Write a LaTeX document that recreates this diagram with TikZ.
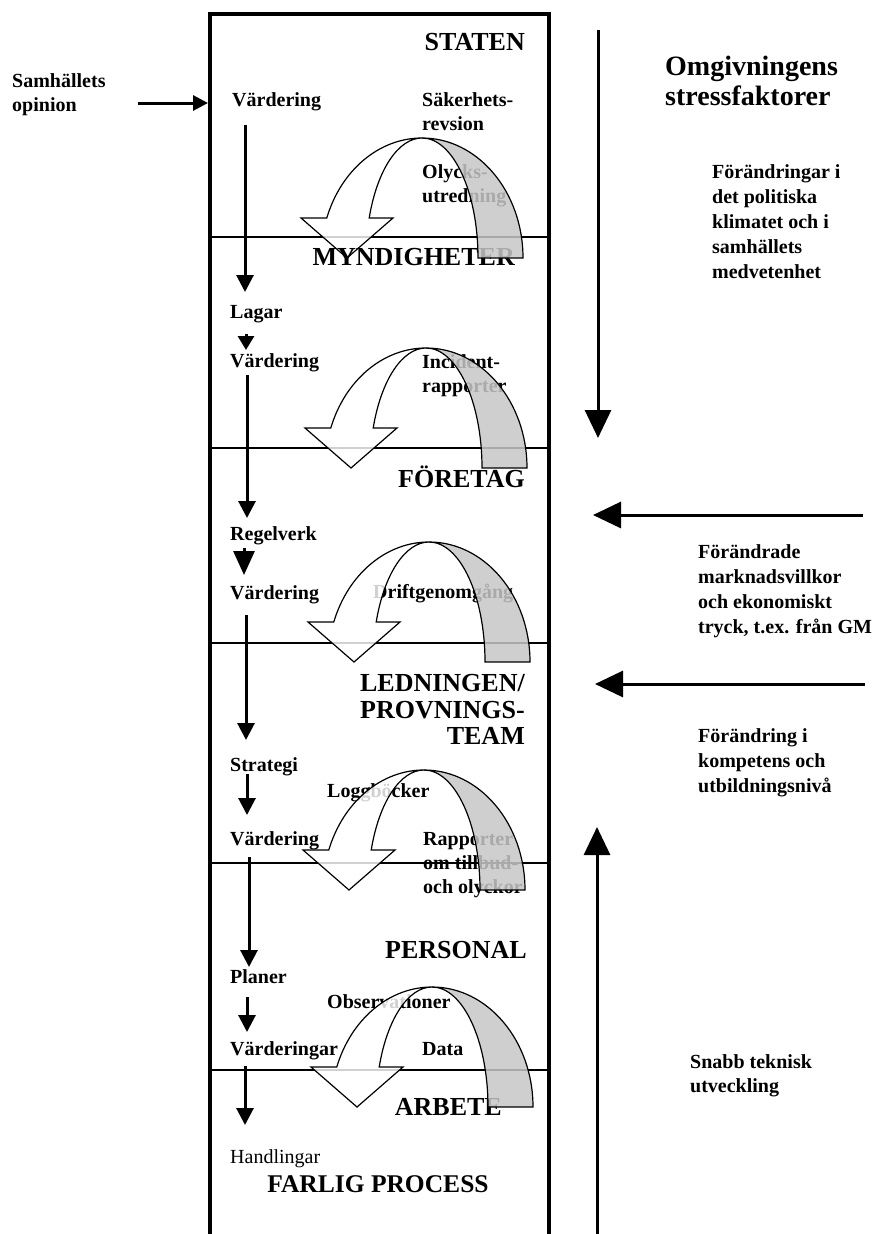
\documentclass[tikz,border=0pt]{standalone}
\usepackage{fontspec}
\setmainfont{Liberation Serif}
\usetikzlibrary{arrows.meta,calc}

\definecolor{bandgray}{gray}{0.78}

\newcommand\lblfont{\fontsize{20}{24}\selectfont\bfseries}
\newcommand\sidefont{\fontsize{20}{25}\selectfont\bfseries}
\newcommand\lvlfont{\fontsize{26}{26.5}\selectfont\bfseries}
\newcommand\headfont{\fontsize{28}{30}\selectfont\bfseries}

\tikzset{
  lbl/.style={font=\lblfont, inner sep=0pt, anchor=base west},
  lblblock/.style={font=\lblfont, inner sep=0pt, anchor=north west, align=left},
  sideblock/.style={font=\sidefont, inner sep=0pt, anchor=north west, align=left},
  level/.style={font=\lvlfont, inner sep=0pt, anchor=base east, align=right},
  flow/.style={line width=3pt, -{Triangle[length=17pt,width=17pt]}},
  stress/.style={line width=3pt, -{Triangle[length=28pt,width=26pt]}},
  frontband/.style={draw=black, line width=1.2pt, fill=white, fill opacity=0.82},
  backband/.style={draw=black, line width=1.2pt, fill=bandgray, fill opacity=0.85},
  border/.style={line width=3.5pt, line join=miter},
  divider/.style={line width=1.3pt}
}

% white front half of a feedback loop, ending in a downward arrow head
% #1 = x of the outer right edge, #2 = depth of the bottom edge
\newcommand\loopfront[2]{%
  \pgfmathsetmacro\lcx{#1-101}%
  \pgfmathsetmacro\lcy{-#2}%
  \path[frontband] (\lcx,\lcy+120)
    arc[start angle=90, end angle=160.53, x radius=101, y radius=120]
    -- (\lcx-121,\lcy+40) -- (\lcx-75,\lcy) -- (\lcx-29,\lcy+40)
    -- (\lcx-52.8,\lcy+40)
    arc[start angle=160.53, end angle=90, x radius=56, y radius=120]
    -- cycle;}
% shaded back half of the same loop
\newcommand\loopback[2]{%
  \pgfmathsetmacro\lcx{#1-101}%
  \pgfmathsetmacro\lcy{-#2}%
  \path[backband] (\lcx+56,\lcy) -- (\lcx+101,\lcy)
    arc[start angle=0, end angle=90, x radius=101, y radius=120]
    arc[start angle=90, end angle=0, x radius=56, y radius=120]
    -- cycle;}

\begin{document}
\begin{tikzpicture}[x=1pt,y=1pt]
\useasboundingbox (0,0) rectangle (875,-1234);

% the column of levels
\draw[border] (210,-1245) -- (210,-14) -- (549,-14) -- (549,-1245);
\foreach \yy in {237,448,643,863,1070}
  \draw[divider] (210,-\yy) -- (549,-\yy);

% decisions flowing down the left side
\node[lbl] (v1) at (232,-106) {Värdering};
\node[lbl] (lagar) at (230,-318) {Lagar};
\node[lbl] (v2) at (230,-367) {Värdering};
\node[lbl] (regel) at (230,-540) {Regelverk};
\node[lbl] (v3) at (230,-599) {Värdering};
\node[lbl] (strat) at (230,-771) {Strategi};
\node[lbl] (v4) at (230,-845) {Värdering};
\node[lbl] (planer) at (230,-983) {Planer};
\node[lbl] (v5) at (230,-1055) {Värderingar};
\node[lbl, font=\fontsize{20}{24}\selectfont\mdseries] (handl) at (230,-1163) {Handlingar};

% feedback information
\node[lblblock] (sak) at (422,-92.3) {Säkerhets-\\revsion};
\node[lblblock] (olyck) at (422,-164.3) {Olycks-\\utredning};
\node[lblblock] (incid) at (422,-354.3) {Incident-\\rapporter};
\node[lbl] (drift) at (373,-598) {Driftgenomgång};
\node[lbl] (logg) at (327,-797) {Loggböcker};
\node[lblblock] (rapp) at (423,-832.3) {Rapporter\\om tillbud-\\och olyckor};
\node[lbl] (obs) at (327,-1008) {Observationer};
\node[lbl] (data) at (422,-1055) {Data};

% front halves of the loops
\loopfront{523}{258}
\loopfront{527}{468}
\loopfront{530}{662}
\loopfront{525}{890}
\loopfront{533}{1107}

% level names
\node[level] (staten) at (525,-50) {STATEN};
\node[level] (myndig) at (515,-265) {MYNDIGHETER};
\node[level] (foretag) at (525,-487) {FÖRETAG};
\node[level, anchor=north east] (ledning) at (525,-674.2) {LEDNINGEN/\\PROVNINGS-\\TEAM};
\node[level] (personal) at (527,-958) {PERSONAL};
\node[level] (arbete) at (502,-1115) {ARBETE};
\node[font=\fontsize{25.5}{26}\selectfont\bfseries, inner sep=0pt, anchor=base] (farlig) at (378,-1192) {FARLIG PROCESS};

% back halves of the loops
\loopback{523}{258}
\loopback{527}{468}
\loopback{530}{662}
\loopback{525}{890}
\loopback{533}{1107}

% arrows between the decisions
\draw[flow] ($(v1.base west)+(13,-19)$) -- ($(lagar.base west)+(15,26)$);
\draw[line width=3pt, -{Triangle[length=14pt,width=16pt]}] ($(lagar.base west)+(16,-16)$) -- ($(v2.base west)+(16,17)$);
\draw[flow] ($(v2.base west)+(17,-8)$) -- ($(regel.base west)+(17,22)$);
\draw[line width=3pt, -{Triangle[length=24pt,width=21pt]}] ($(regel.base west)+(14,-8)$) -- ($(v3.base west)+(14,24)$);
\draw[flow] ($(v3.base west)+(16,-16)$) -- ($(strat.base west)+(16,31)$);
\draw[flow] ($(strat.base west)+(17,-3)$) -- ($(v4.base west)+(17,30)$);
\draw[flow] ($(v4.base west)+(19,-12)$) -- ($(planer.base west)+(19,16)$);
\draw[flow] ($(planer.base west)+(17,-14)$) -- ($(v5.base west)+(17,23)$);
\draw[flow] ($(v5.base west)+(15,-11)$) -- ($(handl.base west)+(15,38)$);

% public opinion entering from the left
\node[lblblock] (opinion) at (12,-73.3) {Samhällets\\opinion};
\coordinate (opstart) at (138,-103);
\draw[line width=3pt, -{Triangle[length=15pt,width=15pt]}] (opstart) -- (208,-103);

% stress factors of the surroundings
\node[font=\headfont, inner sep=0pt, anchor=north west, align=left] (omgiv) at (665,-55.9) {Omgivningens\\stressfaktorer};
\node[sideblock] (politik) at (712,-164.3) {Förändringar i\\det politiska\\klimatet och i\\samhällets\\medvetenhet};
\node[sideblock] (marknad) at (698,-544.3) {Förändrade\\marknadsvillkor\\och ekonomiskt\\tryck, t.ex. från GM};
\node[sideblock] (kompet) at (698,-728.3) {Förändring i\\kompetens och\\utbildningsnivå};
\node[lblblock] (teknik) at (690,-1054.3) {Snabb teknisk\\utveckling};

\coordinate (downtop) at (598,-30);
\coordinate (downtip) at (598,-438);
\draw[stress] (downtop) -- (downtip);
\coordinate (m1start) at (863,-515);
\coordinate (m1tip) at (593,-515);
\draw[stress] (m1start) -- (m1tip);
\coordinate (m2start) at (865,-684);
\coordinate (m2tip) at (595,-684);
\draw[stress] (m2start) -- (m2tip);
\coordinate (upbottom) at (597,-1240);
\coordinate (uptip) at (597,-827);
\draw[stress] (upbottom) -- (uptip);
\end{tikzpicture}
\end{document}
